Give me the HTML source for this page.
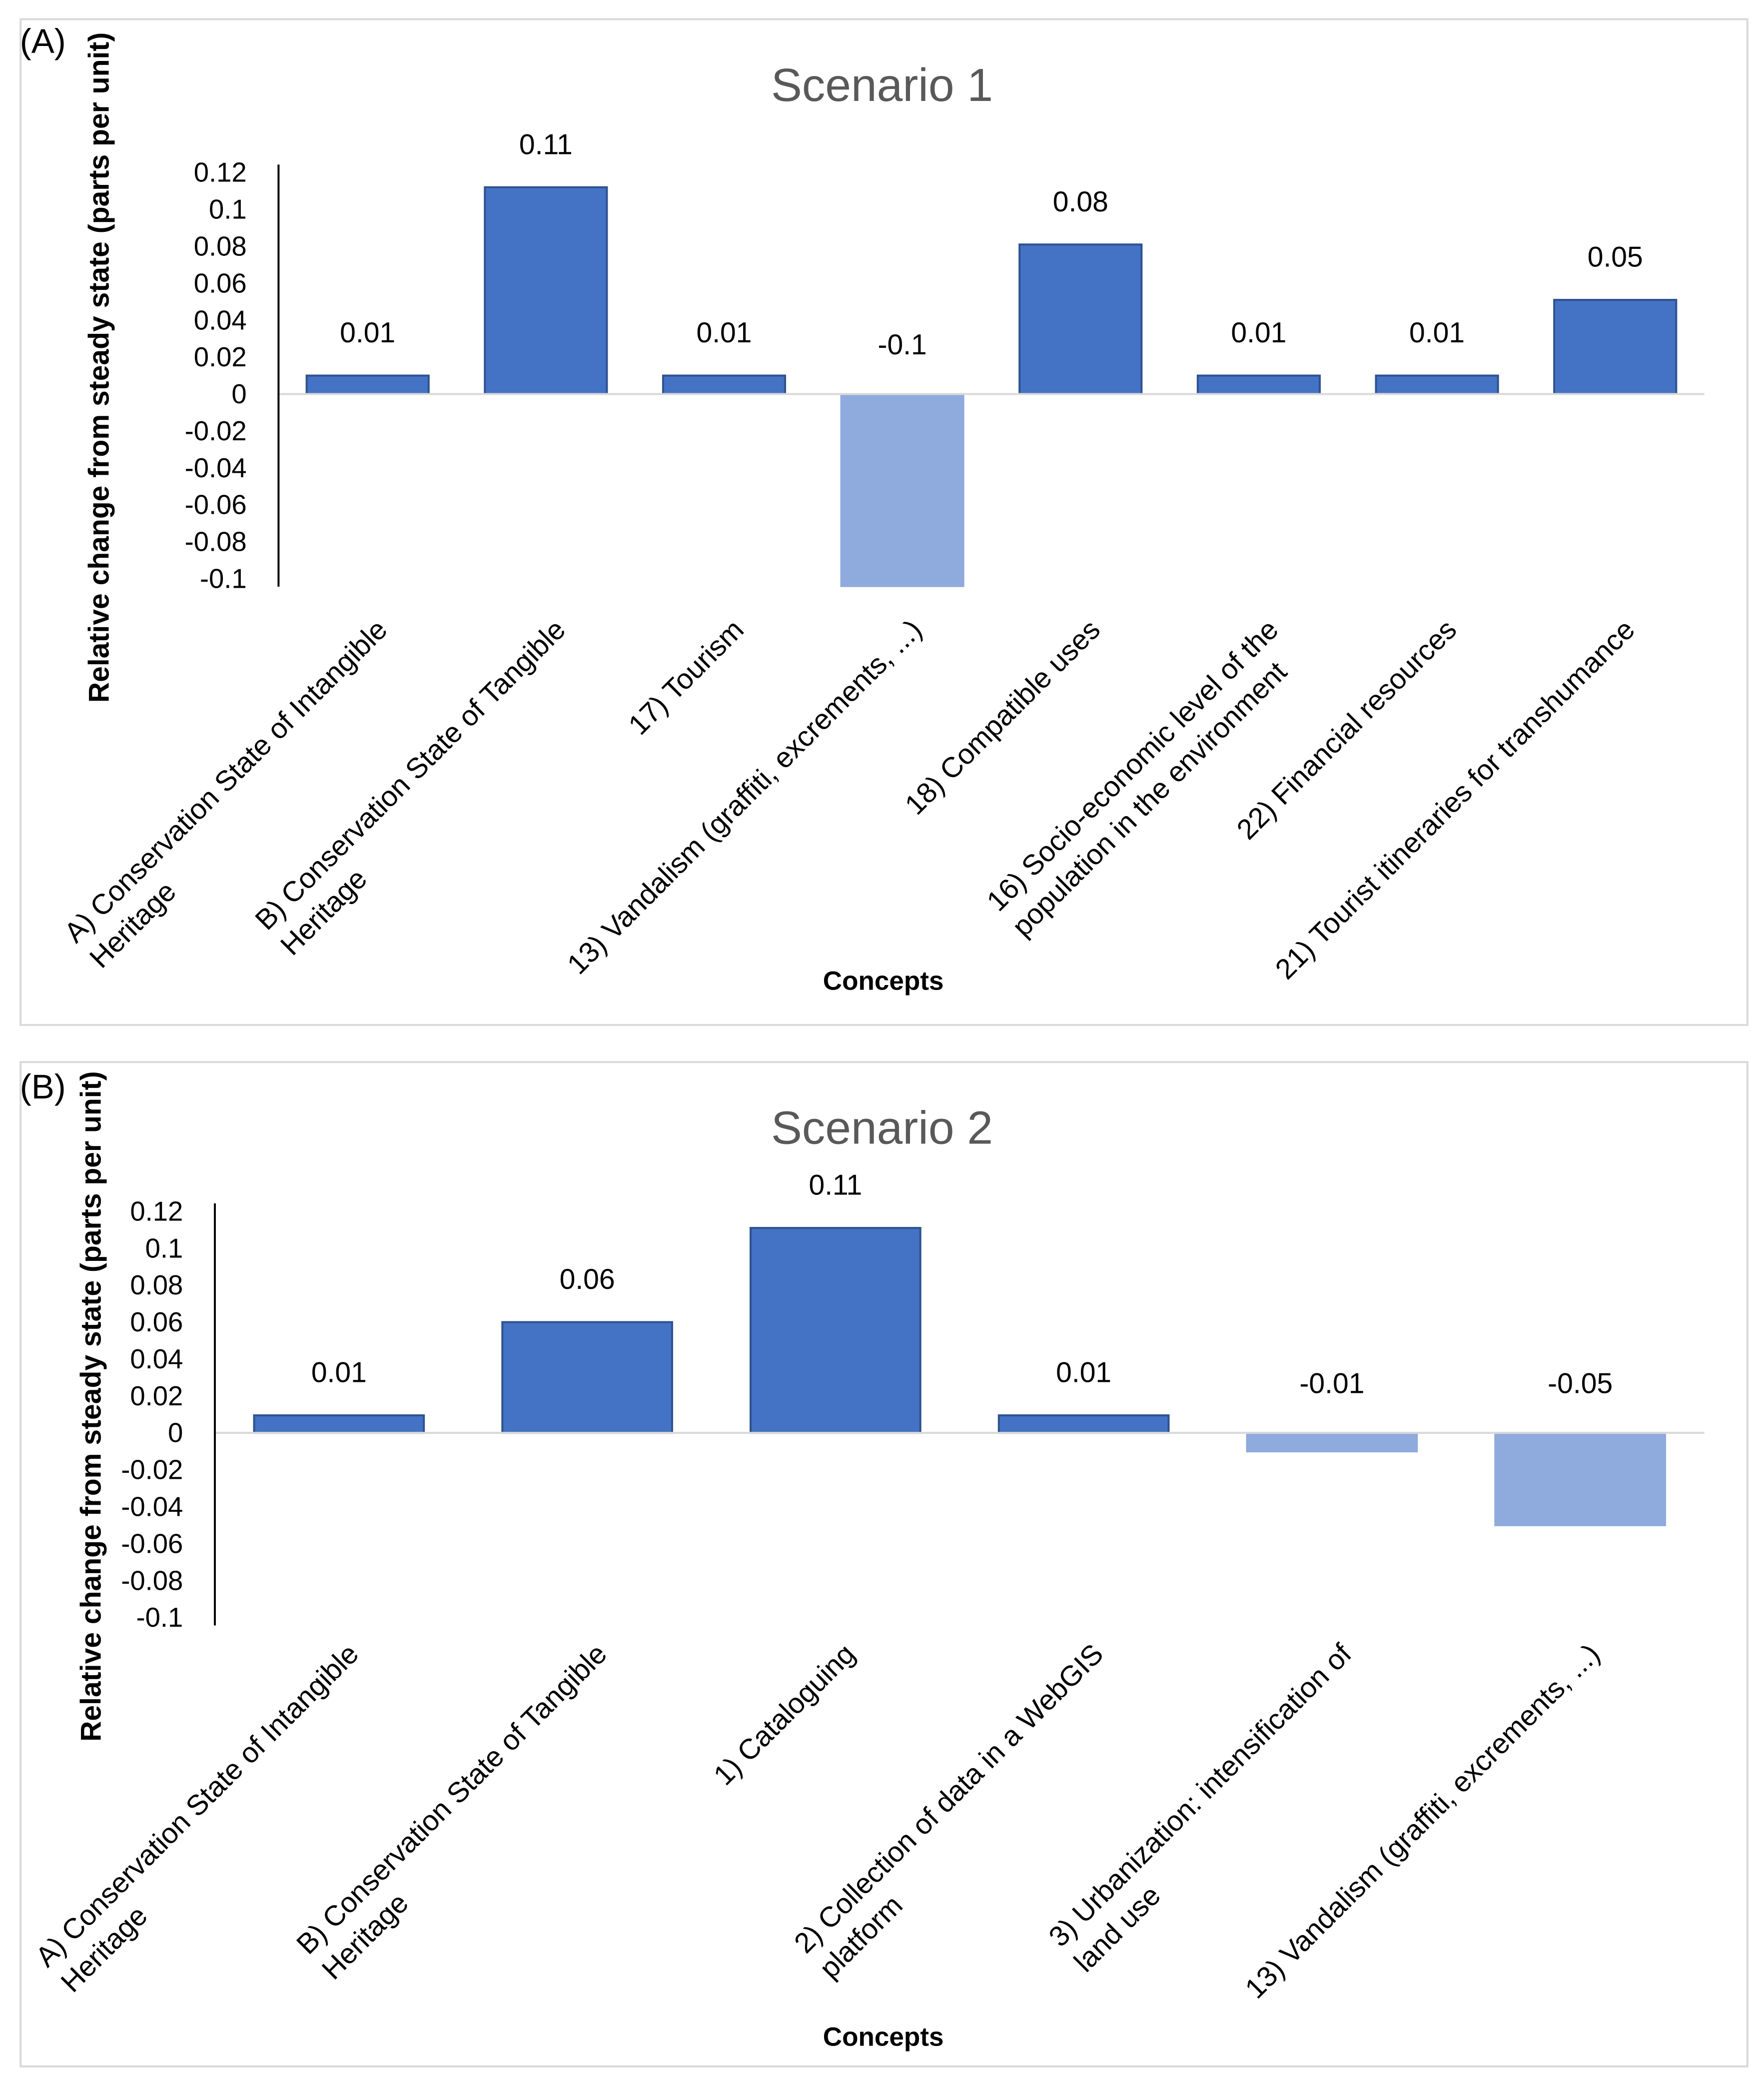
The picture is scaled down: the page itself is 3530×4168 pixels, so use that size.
<!DOCTYPE html>
<html><head><meta charset="utf-8">
<style>
html,body{margin:0;padding:0;background:#fff;}
svg{display:block;}
text{font-family:"Liberation Sans",sans-serif;}
</style></head>
<body>
<svg id="fig" width="3530" height="4168" viewBox="0 0 1330 1570" preserveAspectRatio="none" xmlns="http://www.w3.org/2000/svg">
  <rect x="0" y="0" width="1330" height="1570" fill="#fff"/>
  <g id="panelA">
    <rect x="15.5" y="14.5" width="1302" height="758" fill="#fff" stroke="#d9d9d9" stroke-width="1.5"/>
    <text x="15" y="40" font-size="26" fill="#000">(A)</text>
    <text x="665" y="76" font-size="35" fill="#595959" text-anchor="middle">Scenario 1</text>
    <text transform="translate(82,277) rotate(-90)" font-size="21.5" font-weight="bold" fill="#000" text-anchor="middle">Relative change from steady state (parts per unit)</text>
    <text x="666" y="746" font-size="20" font-weight="bold" fill="#000" text-anchor="middle">Concepts</text>
  </g>
  <g id="panelB">
    <rect x="15.5" y="800.5" width="1302" height="757" fill="#fff" stroke="#d9d9d9" stroke-width="1.5"/>
    <text x="15" y="828" font-size="26" fill="#000">(B)</text>
    <text x="665" y="862" font-size="35" fill="#595959" text-anchor="middle">Scenario 2</text>
    <text transform="translate(76,1060) rotate(-90)" font-size="21.5" font-weight="bold" fill="#000" text-anchor="middle">Relative change from steady state (parts per unit)</text>
    <text x="666" y="1542" font-size="20" font-weight="bold" fill="#000" text-anchor="middle">Concepts</text>
  </g>
</svg>
<script>
// ---- Chart A data ----
const categoriesA = [
  ["A) Conservation State of Intangible","Heritage"],
  ["B) Conservation State of Tangible","Heritage"],
  ["17) Tourism"],
  ["13) Vandalism (graffiti, excrements, ...)"],
  ["18) Compatible uses"],
  ["16) Socio-economic level of the","population in the environment"],
  ["22) Financial resources"],
  ["21) Tourist itineraries for transhumance"]
];
const valuesA = [0.01, 0.112, 0.01, -0.104, 0.081, 0.01, 0.01, 0.051];
const valueLabelsA = ["0.01","0.11","0.01","-0.1","0.08","0.01","0.01","0.05"];
// ---- Chart B data ----
const categoriesB = [
  ["A) Conservation State of Intangible","Heritage"],
  ["B) Conservation State of Tangible","Heritage"],
  ["1) Cataloguing"],
  ["2) Collection of data in a WebGIS","platform"],
  ["3) Urbanization: intensification of","land use"],
  ["13) Vandalism (graffiti, excrements, ...)"]
];
const valuesB = [0.0095, 0.06, 0.111, 0.0095, -0.01, -0.05];
const valueLabelsB = ["0.01","0.06","0.11","0.01","-0.01","-0.05"];
// ---- shared ticks ----
const tickValues = [0.12,0.1,0.08,0.06,0.04,0.02,0,-0.02,-0.04,-0.06,-0.08,-0.1];
const tickLabels = ["0.12","0.1","0.08","0.06","0.04","0.02","0","-0.02","-0.04","-0.06","-0.08","-0.1"];

const NS = "http://www.w3.org/2000/svg";
function mk(parent, tag, attrs){
  const e = document.createElementNS(NS, tag);
  for (const k in attrs) e.setAttribute(k, attrs[k]);
  parent.appendChild(e);
  return e;
}
function drawChart(g, id, cats, vals, vlabels, cfg){
  const y = v => cfg.zeroY - (v / 0.12) * (cfg.zeroY - cfg.topY);
  const step = (cfg.x1 - cfg.x0) / cats.length;
  tickValues.forEach((t, i) => {
    const tl = mk(g, "text", {x: cfg.x0 - 24, y: y(t) + 7, "font-size": 20.5, "text-anchor": "end", fill: "#000"});
    
    
    tl.textContent = tickLabels[i];
  });
  vals.forEach((v, i) => {
    const cx = cfg.x0 + step * (i + 0.5);
    const top = Math.min(y(v), cfg.zeroY), h = Math.abs(y(v) - cfg.zeroY);
    const pos = v >= 0;
    const r = mk(g, "rect", {x: cx - cfg.bw/2, y: top, width: cfg.bw, height: h,
      fill: pos ? "#4472c4" : "#8faadc", stroke: pos ? "#2f528f" : "#8faadc", "stroke-width": 1.5});
    
    
    const lt = mk(g, "text", {x: cx, y: pos ? y(v) - 25 : cfg.zeroY - 30, "font-size": 21.5, "text-anchor": "middle", fill: "#000"});
    
    
    lt.textContent = vlabels[i];
    const ax = cx + cfg.lx, ay = cfg.ly;
    const lg = mk(g, "g", {transform: "translate(" + ax + "," + ay + ") rotate(-45)"});
    
    
    const t1 = mk(lg, "text", {x: 0, y: 0, "font-size": 21.5, "text-anchor": "end", fill: "#000"});
    t1.textContent = cats[i][0];
    if (cats[i].length > 1) {
      const w = t1.getComputedTextLength();
      const t2 = mk(lg, "text", {x: -w, y: 27, "font-size": 21.5, "text-anchor": "start", fill: "#000"});
      t2.textContent = cats[i][1];
    }
  });
  const za = mk(g, "line", {x1: cfg.x0, x2: cfg.x1, y1: cfg.zeroY, y2: cfg.zeroY, stroke: "#d9d9d9", "stroke-width": 1.5});
  
  
  const ya = mk(g, "line", {x1: cfg.x0, x2: cfg.x0, y1: cfg.topY - 6, y2: y(-0.1) + 6, stroke: "#000", "stroke-width": 1.5});
  
  
}
drawChart(document.getElementById("panelA"), "a", categoriesA, valuesA, valueLabelsA,
  {x0: 210, x1: 1285, zeroY: 297, topY: 130, bw: 92, lx: 16, ly: 476});
drawChart(document.getElementById("panelB"), "b", categoriesB, valuesB, valueLabelsB,
  {x0: 162, x1: 1285, zeroY: 1080, topY: 913, bw: 128, lx: 16, ly: 1248});
</script>
</body></html>
